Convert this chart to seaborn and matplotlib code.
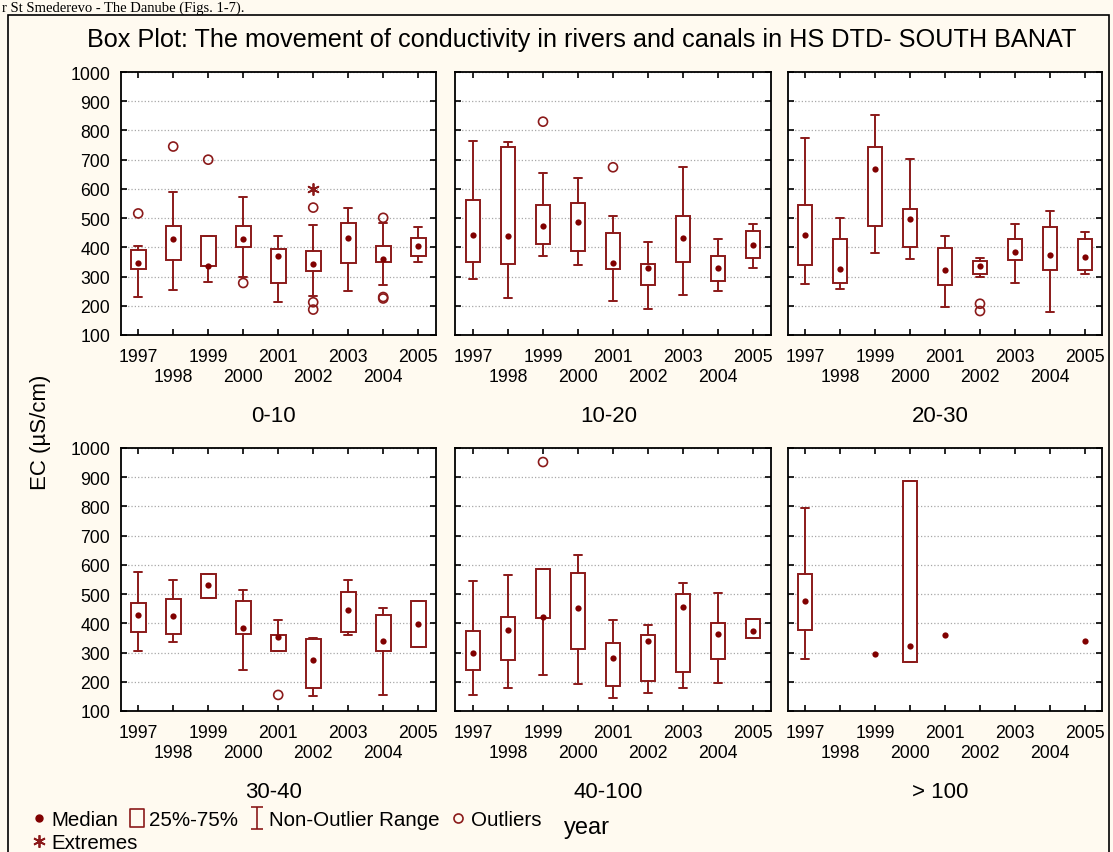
import numpy as np
import pandas as pd
import seaborn as sns
import matplotlib.pyplot as plt
from matplotlib.lines import Line2D
from matplotlib.path import Path
from matplotlib.markers import MarkerStyle
from matplotlib.patches import Rectangle

# datos (EC en uS/cm)
YEARS = [1997, 1998, 1999, 2000, 2001, 2002, 2003, 2004, 2005]
DEPTHS = ["0-10", "10-20", "20-30", "30-40", "40-100", "> 100"]
nan = np.nan

MEDIAN = [
    [346, 428, 337, 427, 371, 342, 433, 360, 404],
    [442, 440, 473, 485, 346, 330, 431, 330, 409],
    [443, 326, 669, 497, 322, 336, 385, 374, 367],
    [430, 426, 531, 385, 352, 273, 445, 338, 397],
    [297, 378, 423, 452, 283, 341, 456, 362, 373],
    [478, nan, 295, 321, 361, nan, nan, nan, 338],
]
Q1 = [
    [326, 357, 335, 400, 278, 320, 346, 350, 370],
    [349, 343, 412, 386, 326, 271, 349, 285, 365],
    [338, 278, 472, 400, 270, 309, 355, 321, 322],
    [369, 363, 487, 365, 304, 179, 369, 304, 318],
    [240, 273, 419, 311, 184, 203, 232, 279, 349],
    [377, nan, nan, 267, nan, nan, nan, nan, nan],
]
Q3 = [
    [392, 472, 440, 474, 394, 386, 484, 403, 432],
    [561, 744, 546, 552, 448, 344, 506, 369, 456],
    [546, 430, 744, 531, 398, 354, 428, 468, 427],
    [468, 483, 570, 477, 361, 346, 507, 429, 476],
    [374, 423, 586, 573, 331, 361, 501, 400, 415],
    [570, nan, nan, 887, nan, nan, nan, nan, nan],
]
WHISKER_LOW = [
    [230, 255, 282, 300, 214, 232, 252, 271, 350],
    [292, 227, 371, 339, 217, 188, 238, 249, 329],
    [274, 259, 379, 359, 195, 300, 279, 180, 309],
    [305, 336, 487, 239, 304, 152, 360, 155, 318],
    [155, 179, 223, 191, 146, 163, 180, 195, 349],
    [279, nan, nan, 267, nan, nan, nan, nan, nan],
]
WHISKER_HIGH = [
    [406, 591, 440, 573, 440, 477, 536, 483, 468],
    [765, 759, 656, 638, 508, 419, 675, 430, 481],
    [773, 501, 853, 702, 440, 365, 481, 523, 453],
    [577, 548, 570, 515, 413, 350, 548, 452, 476],
    [545, 564, 586, 635, 410, 394, 537, 504, 415],
    [795, nan, nan, 887, nan, nan, nan, nan, nan],
]

# outliers y extremos
OUT_DEPTH = ["0-10"] * 10 + ["10-20"] * 2 + ["20-30"] * 2 + ["30-40", "40-100"]
OUT_YEAR = [1997, 1998, 1999, 2000, 2002, 2002, 2002, 2004, 2004, 2004,
            1999, 2001, 2002, 2002, 2001, 1999]
OUT_VALUE = [516, 745, 700, 278, 536, 212, 187, 501, 230, 225,
             830, 674, 207, 182, 155, 952]
EXT_DEPTH = ["0-10"]
EXT_YEAR = [2002]
EXT_VALUE = [600]

RED = "#8b1a1a"
DOT = "#800000"
BG = "#fffaf0"

# tabla larga
rows = []
for i, d in enumerate(DEPTHS):
    for j, y in enumerate(YEARS):
        rows.append({"depth": d, "year": y, "median": MEDIAN[i][j], "q1": Q1[i][j],
                     "q3": Q3[i][j], "lo": WHISKER_LOW[i][j], "hi": WHISKER_HIGH[i][j]})
df = pd.DataFrame(rows)
out = pd.DataFrame({"depth": OUT_DEPTH, "year": OUT_YEAR, "value": OUT_VALUE})
ext = pd.DataFrame({"depth": EXT_DEPTH, "year": EXT_YEAR, "value": EXT_VALUE})

sns.set_theme(style="ticks")
plt.rcParams["font.family"] = ["Liberation Sans", "DejaVu Sans"]
for k in ["text.color", "axes.labelcolor", "xtick.color", "ytick.color"]:
    plt.rcParams[k] = "black"

W, H = 1113, 853
fig = plt.figure(figsize=(W / 100, H / 100), dpi=100, facecolor=BG)

lefts = [120.7, 455.5, 787.5]
tops = [73, 449]
aw, ah = 315, 263

for i, d in enumerate(DEPTHS):
    r, c = divmod(i, 3)
    ax = fig.add_axes([lefts[c] / W, 1 - (tops[r] + ah) / H, aw / W, ah / H])
    ax.set_facecolor("white")
    sub = df[df["depth"] == d].reset_index(drop=True)

    # cajas (solo donde hay cuartiles)
    stats, pos = [], []
    for k, row in sub.iterrows():
        if pd.notna(row["q1"]):
            stats.append({"med": row["median"], "q1": row["q1"], "q3": row["q3"],
                          "whislo": row["lo"], "whishi": row["hi"], "fliers": []})
            pos.append(k)
    if stats:
        ax.bxp(stats, positions=pos, widths=0.42, capwidths=0.23, showfliers=False,
               patch_artist=True, manage_ticks=False,
               boxprops=dict(facecolor="white", edgecolor=RED, linewidth=1.4),
               whiskerprops=dict(color=RED, linewidth=1.4),
               capprops=dict(color=RED, linewidth=1.4),
               medianprops=dict(linestyle="none"), zorder=3)

    # medianas
    sns.stripplot(data=sub, x="year", y="median", order=YEARS, jitter=False,
                  color=DOT, size=4.5, linewidth=0, ax=ax, zorder=4)
    o = out[out["depth"] == d]
    if len(o):
        sns.stripplot(data=o, x="year", y="value", order=YEARS, jitter=False,
                      marker=MarkerStyle("o", fillstyle="none"), color=RED,
                      edgecolor=RED, size=6.5, linewidth=1.2, ax=ax, zorder=4)
    e = ext[ext["depth"] == d]
    if len(e):
        sns.stripplot(data=e, x="year", y="value", order=YEARS, jitter=False,
                      marker=(6, 2, 0), color=RED, edgecolor=RED, size=8,
                      linewidth=1.3, ax=ax, zorder=4)

    ax.set_xlim(-0.5, 8.5)
    ax.set_ylim(100, 1000)
    ax.set_yticks(range(100, 1001, 100))
    # años impares arriba, pares abajo (como en STATISTICA)
    ax.set_xticks(range(0, len(YEARS), 2))
    ax.set_xticklabels([str(y) for y in YEARS[0::2]])
    ax.set_xticks(range(1, len(YEARS), 2), minor=True)
    ax.set_xticklabels([str(y) for y in YEARS[1::2]], minor=True)
    if c != 0:
        ax.set_yticklabels([])
    ax.set_xlabel("")
    ax.set_ylabel("")
    ax.grid(axis="y", linestyle=":", color="#a8a8a8", linewidth=0.9)
    ax.set_axisbelow(True)
    ax.tick_params(which="both", direction="in", length=4, width=1.2, top=True, right=True,
                   labelsize=12.7, colors="black")
    ax.tick_params(axis="x", which="major", pad=9.5)
    ax.tick_params(axis="x", which="minor", pad=23.5)
    ax.tick_params(axis="y", pad=7.5)
    for s in ax.spines.values():
        s.set_color("black")
        s.set_linewidth(1.3)
    ax.text(0.485, -81 / ah, d, transform=ax.transAxes, ha="center", va="center",
            fontsize=16)

# textos generales
fig.text(582 / W, 1 - 40 / H,
         "Box Plot: The movement of conductivity in rivers and canals in HS DTD- SOUTH BANAT",
         ha="center", va="center", fontsize=18.2)
fig.text(41 / W, 1 - 432 / H, "EC (\u00b5S/cm)", rotation=90, ha="center", va="center",
         fontsize=16)
fig.text(587 / W, 1 - 828 / H, "year", ha="center", va="center", fontsize=17)

# leyenda estilo STATISTICA
cap_path = Path([(-0.5, 1), (0.5, 1), (0, 1), (0, -1), (-0.5, -1), (0.5, -1)],
                [Path.MOVETO, Path.LINETO, Path.MOVETO, Path.LINETO, Path.MOVETO, Path.LINETO])
box_path = Path([(-0.8, -1), (0.8, -1), (0.8, 1), (-0.8, 1), (-0.8, -1)],
                [Path.MOVETO, Path.LINETO, Path.LINETO, Path.LINETO, Path.CLOSEPOLY])
handles = [
    Line2D([], [], ls="none", marker="o", color=DOT, markersize=5),
    Line2D([], [], ls="none", marker=box_path, mfc="none", mec=RED, markersize=13, mew=1.2),
    Line2D([], [], ls="none", marker=cap_path, color=RED, markersize=16, mew=1.2),
    Line2D([], [], ls="none", marker="o", mfc="none", mec=RED, markersize=6.5, mew=1.2),
]
labels = ["Median", "25%-75%", "Non-Outlier Range", "Outliers"]
leg_kw = dict(loc="upper left", frameon=False, fontsize=14.8, handlelength=0.8,
              handletextpad=0.2, columnspacing=0.5, borderpad=0, borderaxespad=0)
fig.legend(handles, labels, ncol=4, bbox_to_anchor=(31 / W, 1 - 811 / H), **leg_kw)
ext_handle = [Line2D([], [], ls="none", marker=(6, 2, 0), color=RED, markersize=9, mew=1.3)]
fig.legend(ext_handle, ["Extremes"], bbox_to_anchor=(31 / W, 1 - 834 / H), **leg_kw)

# marco del documento y texto de arriba
fig.patches.append(Rectangle((8 / W, -0.02), (1109 - 8) / W, 1.02 - 16 / H, fill=False,
                             edgecolor="black", linewidth=1.2, transform=fig.transFigure))
fig.text(2 / W, 1 - 2 / H, "r St Smederevo - The Danube (Figs. 1-7).", family="Liberation Serif",
         fontsize=10.5, ha="left", va="top")

fig.savefig("out.png", dpi=100, facecolor=BG)
